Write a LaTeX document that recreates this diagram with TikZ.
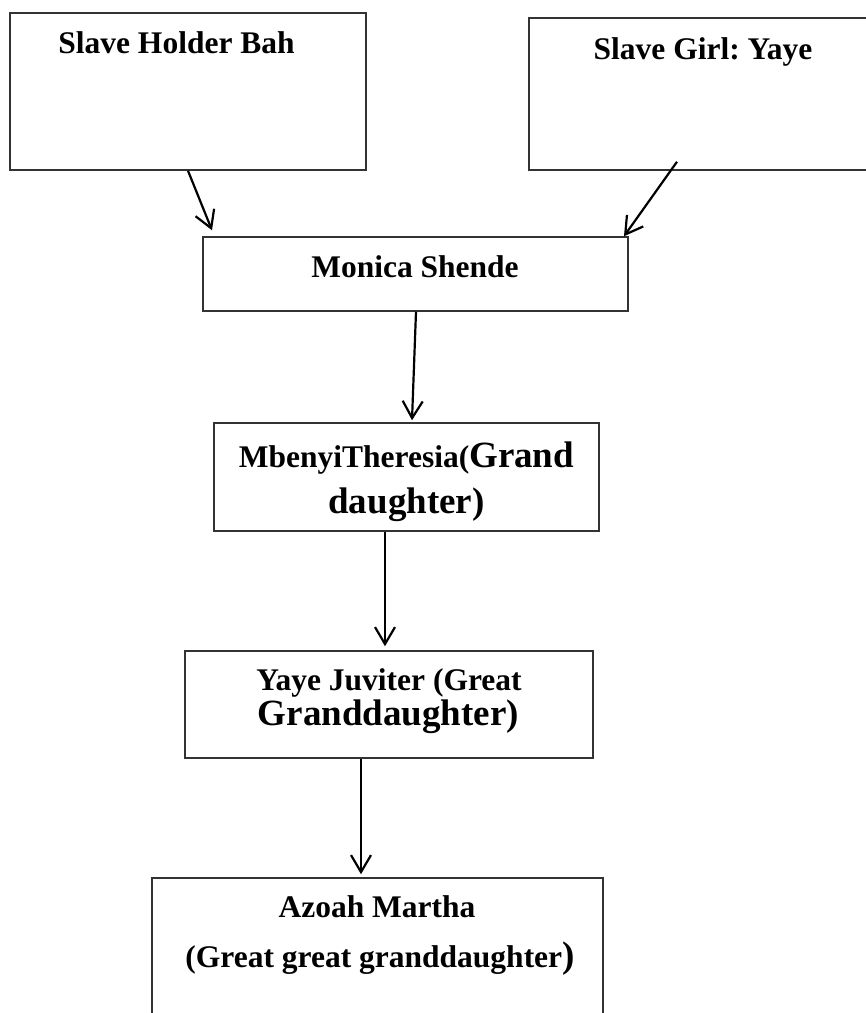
\documentclass[tikz,border=0pt]{standalone}
\usepackage{fontspec}
\setmainfont{Liberation Serif}
\usetikzlibrary{arrows.meta}
\frenchspacing
\newcommand{\smallsz}{\fontsize{31.5}{38}\selectfont}
\newcommand{\largesz}{\fontsize{37}{44}\selectfont}
\begin{document}
\begin{tikzpicture}[x=1pt,y=-1pt,
  box/.style={draw=black!80, line width=1.5pt, rectangle, inner sep=0pt},
  txt/.style={inner sep=0pt, anchor=base, font=\bfseries\smallsz},
  link/.style={draw=black, line width=2.2pt, -{Straight Barb[length=17pt,width=20pt]}}]
\useasboundingbox (0,0) rectangle (866,1013);
\clip (0,0) rectangle (866,1013);

% family boxes
\node[box, minimum width=356pt, minimum height=157pt] (holder) at (188,91.5) {};
\node[box, minimum width=371pt, minimum height=152pt] (girl) at (714.5,94) {};
\node[box, minimum width=425pt, minimum height=74pt] (monica) at (415.5,274) {};
\node[box, minimum width=385pt, minimum height=108pt] (mbenyi) at (406.5,477) {};
\node[box, minimum width=408pt, minimum height=107pt] (juviter) at (389,704.5) {};
\node[box, minimum width=451pt, minimum height=152pt] (azoah) at (377.5,954) {};

% descent arrows
\draw[link] (holder.south) -- ([xshift=-203.5pt,yshift=6pt]monica.north);
\draw[link] ([xshift=-37.5pt,yshift=9pt]girl.south) -- ([xshift=208.5pt]monica.north);
\draw[link] ([xshift=0.5pt]monica.south) -- ([xshift=5.5pt,yshift=2pt]mbenyi.north);
\draw[link] ([xshift=-21.5pt]mbenyi.south) -- ([xshift=-4pt,yshift=4pt]juviter.north);
\draw[link] ([xshift=-28pt]juviter.south) -- ([xshift=-16.5pt,yshift=3pt]azoah.north);

% names
\node[txt] (holdertext) at (176.5,53) {Slave Holder Bah};
\node[txt] (girltext) at (703,59) {Slave Girl: Yaye};
\node[txt] (monicatext) at (415,277) {Monica Shende};
\node[txt] (mbenyione) at (406.5,467) {MbenyiTheresia({\largesz Grand}};
\node[txt] (mbenyitwo) at (406.5,513) {\largesz daughter)};
\node[txt] (juviterone) at (389,690) {Yaye Juviter (Great};
\node[txt] (juvitertwo) at (388.5,725) {\largesz Granddaughter)};
\node[txt] (azoahone) at (377,917) {Azoah Martha};
\node[txt] (azoahtwo) at (380,967) {(Great great granddaughter{\largesz )}};
\end{tikzpicture}
\end{document}
